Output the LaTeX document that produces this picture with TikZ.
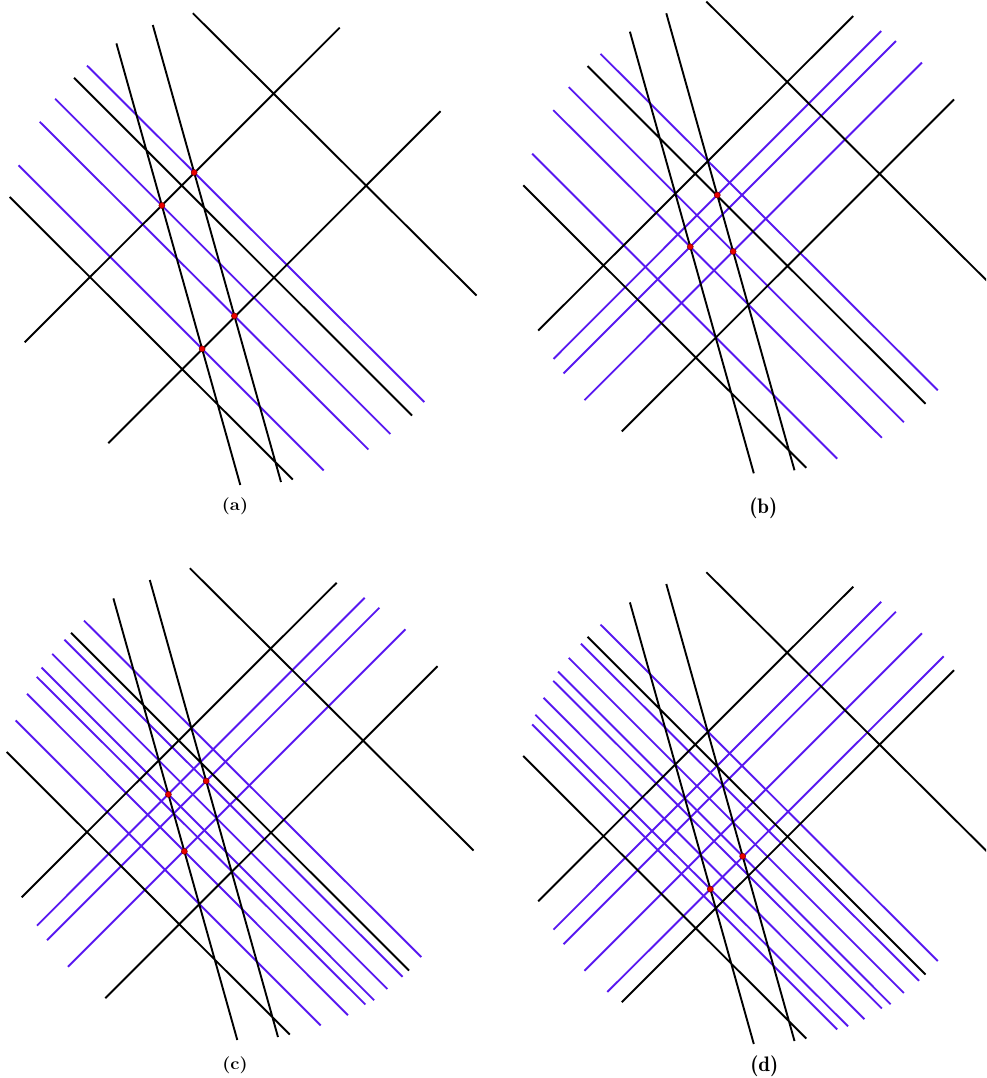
\documentclass[tikz,border=0pt]{standalone}
\definecolor{lineblue}{RGB}{88,24,240}
\definecolor{dotred}{RGB}{235,0,0}
\newcommand\defpts{%
  \coordinate (s1a) at (116.4,43.4);  \coordinate (s1b) at (240.3,485);
  \coordinate (s2a) at (152.8,25);    \coordinate (s2b) at (281,482);
  \coordinate (d1a) at (192.8,13.2);  \coordinate (d1b) at (476.5,295.5);
  \coordinate (d2a) at (74,77.8);     \coordinate (d2b) at (412,415.5);
  \coordinate (d3a) at (9.7,197);     \coordinate (d3b) at (292.8,479.5);
  \coordinate (a1a) at (339.7,27.7);  \coordinate (a1b) at (24.7,342.3);
  \coordinate (a2a) at (440.5,111.2); \coordinate (a2b) at (108.3,443.2);
  \coordinate (b1a) at (87,65.6);     \coordinate (b1b) at (424.3,402);
  \coordinate (n1a) at (67.4,84.7);   \coordinate (n1b) at (405.6,421.8);
  \coordinate (b2a) at (55.2,98.8);   \coordinate (b2b) at (390.4,434);
  \coordinate (n2a) at (44.6,112.6);  \coordinate (n2b) at (377.1,445.2);
  \coordinate (b3a) at (39.7,121.8);  \coordinate (b3b) at (368.4,449.5);
  \coordinate (n3a) at (30,138.8);    \coordinate (n3b) at (351,460.2);
  \coordinate (n4a) at (21.8,155.7);  \coordinate (n4b) at (334.5,467.3);
  \coordinate (b4a) at (18.6,165.4);  \coordinate (b4b) at (323.7,470.4);
  \coordinate (e1a) at (367.6,42.8);  \coordinate (e1b) at (40,370.6);
  \coordinate (e2a) at (382.4,52.7);  \coordinate (e2b) at (50,385.2);
  \coordinate (e3a) at (408.4,74.3);  \coordinate (e3b) at (71,411.8);
  \coordinate (e4a) at (430.2,97.3);  \coordinate (e4b) at (93.8,433);
}
\newcommand\blacklines{%
  \draw[blk] (s1a)--(s1b) (s2a)--(s2b) (d1a)--(d1b) (d2a)--(d2b)
    (d3a)--(d3b) (a1a)--(a1b) (a2a)--(a2b);}
\newcommand\bluelines[1]{%
  \foreach \bl in {#1} {\draw[blu] (\bl a)--(\bl b);}}
\newcommand\mkdot[2]{%
  \path[rdot] (intersection of #1a--#1b and #2a--#2b) circle (3);}
\begin{document}
\begin{tikzpicture}[x=1pt,y=-1pt,
  blk/.style={line width=1.9pt,black},
  blu/.style={line width=1.9pt,lineblue},
  rdot/.style={fill=dotred,draw=black!55!red,line width=0.5pt},
  lblb/.style={font=\fontsize{17}{20}\selectfont\bfseries,text=black,xscale=1.08,inner sep=0pt},
  lbln/.style={font=\fontsize{21}{24}\selectfont\fontseries{b}\selectfont,text=black,inner sep=0pt}]
\useasboundingbox (0,0) rectangle (986,1078);
\clip (0,0) rectangle (986,1078);
% (a)
\begin{scope}[shift={(0,0)}]
  \defpts
  \bluelines{b1,b2,b3,b4}
  \blacklines
  \mkdot{s2}{b1}\mkdot{s1}{b2}\mkdot{s2}{b3}\mkdot{s1}{b4}
\end{scope}
% (b)
\begin{scope}[shift={(513.5,-11.7)}]
  \defpts
  \bluelines{b1,b2,b3,b4,e1,e2,e3}
  \blacklines
  \mkdot{s2}{e1}\mkdot{s1}{e2}\mkdot{s2}{e3}
\end{scope}
% (c)
\begin{scope}[shift={(-3,555)}]
  \defpts
  \bluelines{b1,n1,b2,n2,b3,n3,b4,e1,e2,e3}
  \blacklines
  \mkdot{s2}{n1}\mkdot{s1}{n2}\mkdot{s1}{n3}
\end{scope}
% (d)
\begin{scope}[shift={(513.5,559)}]
  \defpts
  \bluelines{b1,n1,b2,n2,b3,n3,n4,b4,e1,e2,e3,e4}
  \blacklines
  \mkdot{s2}{n2}\mkdot{s1}{n4}
\end{scope}
\node[lblb] (la) at (235,506.3) {(a)};
\node[lbln] (lb) at (763.3,508.3) {(b)};
\node[lblb] (lc) at (235,1065) {(c)};
\node[lbln] (ld) at (764.3,1066) {(d)};
\end{tikzpicture}
\end{document}
